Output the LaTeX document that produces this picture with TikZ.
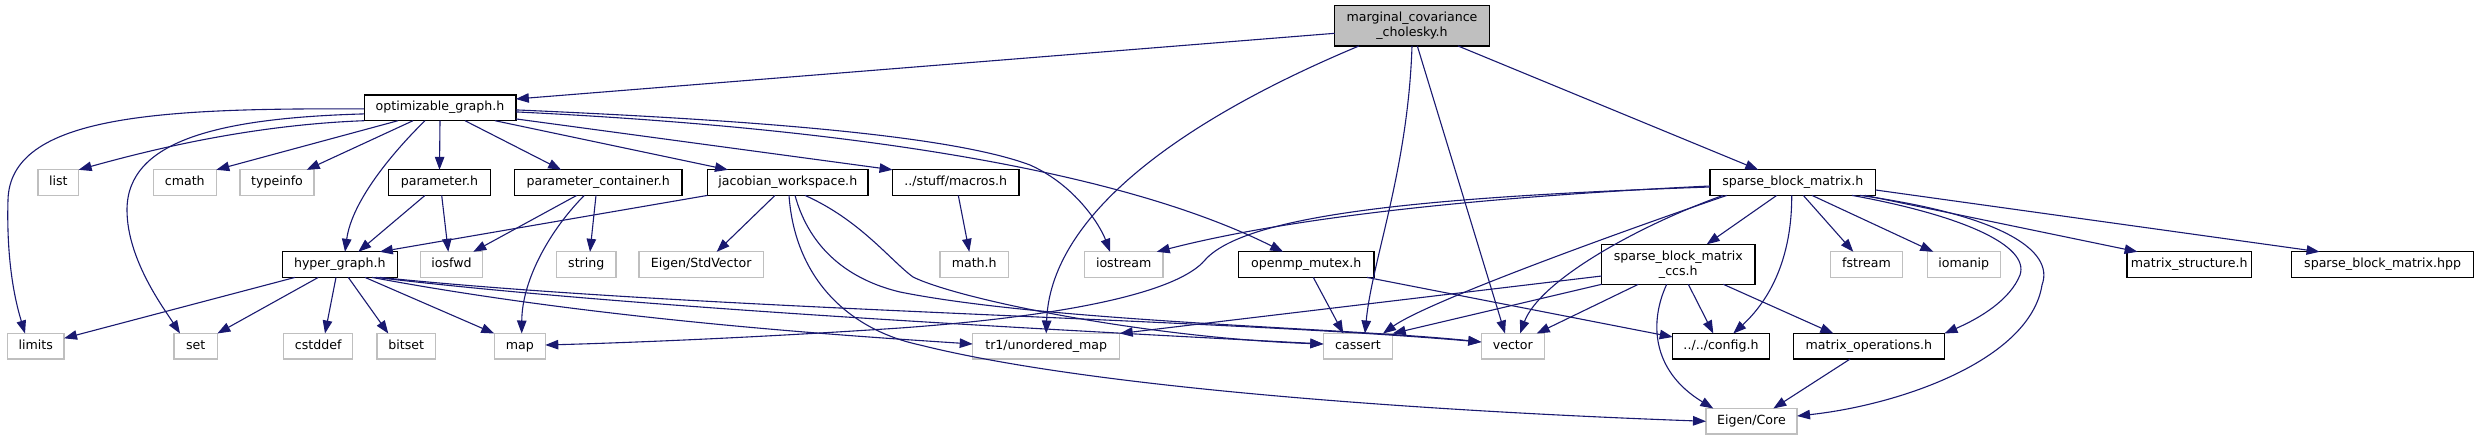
\documentclass[tikz,border=0pt]{standalone}
\usepackage{fontspec}
\setmainfont{DejaVu Sans}
\usetikzlibrary{arrows.meta}
\definecolor{edgeblue}{HTML}{191970}
\definecolor{sysgray}{HTML}{BFBFBF}
\tikzset{
  base/.style={rectangle, inner sep=0pt, outer sep=0pt, font=\fontsize{12.6}{15}\selectfont, align=center, line width=1.3pt, minimum height=25.6pt},
  one/.style={base, text height=9pt, text depth=3pt},
  doc/.style={one, draw=black},
  sys/.style={one, draw=sysgray},
  doctwo/.style={base, draw=black, minimum height=40pt},
  mainbox/.style={base, draw=black, fill=sysgray, minimum height=40.3pt},
  edge/.style={draw=edgeblue, line width=1.1pt, -{Triangle[length=13pt,width=9.5pt]}},
}
\begin{document}
\begin{tikzpicture}[x=1pt,y=-1pt]
\useasboundingbox (0,0) rectangle (2478,440);
% nodes
\node[mainbox, minimum width=154.6pt] (mcc) at (1412,25.8) {marginal\_covariance\\\_cholesky.h};
\node[doc, minimum width=151.7pt] (opt) at (440,107.9) {optimizable\_graph.h};
\node[sys, minimum width=40.7pt] (list) at (58.3,182.6) {list};
\node[sys, minimum width=63pt] (cmath) at (184.8,182.6) {cmath};
\node[sys, minimum width=74pt] (typeinfo) at (277,182.6) {typeinfo};
\node[doc, minimum width=101.6pt] (param) at (439.5,182.6) {parameter.h};
\node[doc, minimum width=167.3pt] (pcont) at (598.2,182.6) {parameter\_container.h};
\node[doc, minimum width=160.6pt] (jac) at (787.8,182.6) {jacobian\_workspace.h};
\node[doc, minimum width=126.5pt] (macros) at (955.8,182.6) {../stuff/macros.h};
\node[doc, minimum width=165.7pt] (sbm) at (1792.8,182.6) {sparse\_block\_matrix.h};
\node[doc, minimum width=115pt] (hg) at (339.8,264.6) {hyper\_graph.h};
\node[sys, minimum width=61.6pt] (iosfwd) at (451.5,264.6) {iosfwd};
\node[sys, minimum width=59.3pt] (string) at (586.3,264.6) {string};
\node[sys, minimum width=124.3pt] (stdvec) at (701.2,264.6) {Eigen/StdVector};
\node[sys, minimum width=68.3pt] (math) at (974.2,264.6) {math.h};
\node[sys, minimum width=78.7pt] (iostream) at (1123.7,264.6) {iostream};
\node[doc, minimum width=135.7pt] (omp) at (1306.2,264.6) {openmp\_mutex.h};
\node[doctwo, minimum width=153.3pt] (ccs) at (1678.3,264.3) {sparse\_block\_matrix\\\_ccs.h};
\node[sys, minimum width=71.7pt] (fstream) at (1866.5,264.6) {fstream};
\node[sys, minimum width=73.3pt] (iomanip) at (1963.8,264.6) {iomanip};
\node[doc, minimum width=124.3pt] (mstruct) at (2189.2,264.6) {matrix\_structure.h};
\node[doc, minimum width=182pt] (hpp) at (2382.6,264.6) {sparse\_block\_matrix.hpp};
\node[sys, minimum width=56.7pt] (limits) at (35.7,346.3) {limits};
\node[sys, minimum width=43.3pt] (set) at (195.7,346.3) {set};
\node[sys, minimum width=69pt] (cstddef) at (318.2,346.3) {cstddef};
\node[sys, minimum width=58.7pt] (bitset) at (406.3,346.3) {bitset};
\node[sys, minimum width=51pt] (map) at (519.8,346.3) {map};
\node[sys, minimum width=147pt] (tr1) at (1046.2,346.3) {tr1/unordered\_map};
\node[sys, minimum width=69.4pt] (cassert) at (1358,346.3) {cassert};
\node[sys, minimum width=63pt] (vector) at (1512.8,346.3) {vector};
\node[doc, minimum width=96.6pt] (config) at (1721,346.3) {../../config.h};
\node[doc, minimum width=151pt] (mops) at (1868.9,346.3) {matrix\_operations.h};
\node[sys, minimum width=91pt] (core) at (1751.5,421.3) {Eigen/Core};
% marginal_covariance_cholesky.h
\draw[edge] ([shift={(0,7.5)}]mcc.west) -- ([shift={(0,-8.9)}]opt.east);
\draw[edge] ([shift={(-53,0)}]mcc.south) .. controls (1170,125) and (1050,220) .. (tr1.north);
\draw[edge] (mcc.south) .. controls (1408,170) and (1372,260) .. ([shift={(7,0)}]cassert.north);
\draw[edge] ([shift={(5.3,0)}]mcc.south) -- ([shift={(-7.8,0)}]vector.north);
\draw[edge] ([shift={(46,0)}]mcc.south) -- ([shift={(-34.5,0)}]sbm.north);
% optimizable_graph.h
\draw[edge] ([shift={(0,1)}]opt.west) .. controls (160,108) and (10,115) .. (8,200) .. controls (6,270) and (18,310) .. ([shift={(-10.7,0)}]limits.north);
\draw[edge] ([shift={(0,6)}]opt.west) .. controls (220,118) and (127,140) .. (127,210) .. controls (127,260) and (165,310) .. ([shift={(-15.7,0)}]set.north);
\draw[edge] (opt.south west) .. controls (250,125) and (150,150) .. (list.north east);
\draw[edge] ([shift={(-42,0)}]opt.south) -- (cmath.north east);
\draw[edge] ([shift={(-27,0)}]opt.south) -- ([shift={(29.7,0)}]typeinfo.north);
\draw[edge] ([shift={(-15,0)}]opt.south) .. controls (395,150) and (352,200) .. ([shift={(5.2,0)}]hg.north);
\draw[edge] (opt.south) -- (param.north);
\draw[edge] ([shift={(25,0)}]opt.south) -- ([shift={(-37,0)}]pcont.north);
\draw[edge] ([shift={(55,0)}]opt.south) -- ([shift={(-59.8,0)}]jac.north);
\draw[edge] ([shift={(0,11)}]opt.east) -- (macros.north west);
\draw[edge] ([shift={(0,2)}]opt.east) .. controls (750,120) and (950,135) .. (1030,165) .. controls (1075,185) and (1100,225) .. ([shift={(-13.7,0)}]iostream.north);
\draw[edge] ([shift={(0,4)}]opt.east) .. controls (850,128) and (1120,170) .. ([shift={(-23,0)}]omp.north);
% parameter.h, parameter_container.h
\draw[edge] ([shift={(-14.5,0)}]param.south) -- ([shift={(18.5,0)}]hg.north);
\draw[edge] ([shift={(2.2,0)}]param.south) -- ([shift={(-3.2,0)}]iosfwd.north);
\draw[edge] ([shift={(-21.5,0)}]pcont.south) -- ([shift={(21.8,0)}]iosfwd.north);
\draw[edge] ([shift={(-13.9,0)}]pcont.south) .. controls (550,230) and (522,280) .. ([shift={(1.9,0)}]map.north);
\draw[edge] ([shift={(-2.2,0)}]pcont.south) -- ([shift={(3.7,0)}]string.north);
% jacobian_workspace.h
\draw[edge] (jac.south west) -- ([shift={(40,0)}]hg.north);
\draw[edge] ([shift={(-12.8,0)}]jac.south) -- ([shift={(15.5,0)}]stdvec.north);
\draw[edge] ([shift={(1.2,0)}]jac.south) .. controls (795,280) and (850,330) .. (920,345) .. controls (1100,390) and (1450,412) .. (core.west);
\draw[edge] ([shift={(17.2,0)}]jac.south) .. controls (860,220) and (890,260) .. (913,277) .. controls (960,300) and (1150,338) .. ([shift={(0,-2.3)}]cassert.west);
\draw[edge] ([shift={(7.2,0)}]jac.south) .. controls (810,250) and (850,280) .. (900,292) .. controls (1050,322) and (1350,328) .. ([shift={(0,-4.3)}]vector.west);
% hyper_graph.h
\draw[edge] ([shift={(-44.8,0)}]hg.south) -- ([shift={(0,-8)}]limits.east);
\draw[edge] ([shift={(-21.5,0)}]hg.south) -- (set.north east);
\draw[edge] ([shift={(-3.8,0)}]hg.south) -- ([shift={(6.8,0)}]cstddef.north);
\draw[edge] ([shift={(8.5,0)}]hg.south) -- ([shift={(-18,0)}]bitset.north);
\draw[edge] ([shift={(25.2,0)}]hg.south) -- (map.north west);
\draw[edge] ([shift={(32.2,0)}]hg.south) .. controls (600,320) and (850,336) .. ([shift={(0,-2.3)}]tr1.west);
\draw[edge] ([shift={(36.2,0)}]hg.south) .. controls (650,310) and (1100,332) .. ([shift={(0,-2.3)}]cassert.west);
\draw[edge] ([shift={(40.2,0)}]hg.south) .. controls (700,310) and (1200,318) .. ([shift={(0,-4.3)}]vector.west);
% openmp_mutex.h, macros.h
\draw[edge] ([shift={(7.1,0)}]omp.south) -- ([shift={(-14.7,0)}]cassert.north);
\draw[edge] ([shift={(60.8,0)}]omp.south) -- ([shift={(0,-9.3)}]config.west);
\draw[edge] ([shift={(2.5,0)}]macros.south) -- ([shift={(-4.9,0)}]math.north);
% sparse_block_matrix.h
\draw[edge] ([shift={(0,3.4)}]sbm.west) .. controls (1500,196) and (1300,215) .. ([shift={(33,0)}]iostream.north);
\draw[edge] ([shift={(0,4.4)}]sbm.west) .. controls (1420,197) and (1245,215) .. (1205,260) .. controls (1180,290) and (1080,315) .. (900,328) .. controls (750,338) and (620,343) .. ([shift={(0,-1.3)}]map.east);
\draw[edge] ([shift={(-66,0)}]sbm.south) .. controls (1640,225) and (1430,300) .. ([shift={(25,0)}]cassert.north);
\draw[edge] ([shift={(-69.8,0)}]sbm.south) .. controls (1640,225) and (1540,280) .. ([shift={(7.2,0)}]vector.north);
\draw[edge] ([shift={(-16.1,0)}]sbm.south) -- ([shift={(28.4,0)}]ccs.north);
\draw[edge] ([shift={(-1.1,0)}]sbm.south) .. controls (1792,250) and (1775,295) .. ([shift={(12.3,0)}]config.north);
\draw[edge] ([shift={(10.5,0)}]sbm.south) -- ([shift={(-13.2,0)}]fstream.north);
\draw[edge] ([shift={(19.2,0)}]sbm.south) -- ([shift={(-30.5,0)}]iomanip.north);
\draw[edge] ([shift={(59.2,0)}]sbm.south) .. controls (1960,215) and (2030,245) .. (2020,275) .. controls (2010,300) and (1980,318) .. (mops.north east);
\draw[edge] ([shift={(67.2,0)}]sbm.south) .. controls (2000,215) and (2055,250) .. (2042,285) .. controls (2030,360) and (1900,405) .. ([shift={(0,-5.3)}]core.east);
\draw[edge] ([shift={(72.2,0)}]sbm.south) -- ([shift={(-51.6,0)}]mstruct.north);
\draw[edge] ([shift={(0,7.4)}]sbm.east) -- ([shift={(-63,0)}]hpp.north);
% sparse_block_matrix_ccs.h
\draw[edge] ([shift={(0,11.7)}]ccs.west) -- (tr1.north east);
\draw[edge] (ccs.south west) -- (cassert.north east);
\draw[edge] ([shift={(-40,0)}]ccs.south) -- ([shift={(23.9,0)}]vector.north);
\draw[edge] ([shift={(10,0)}]ccs.south) -- ([shift={(-7.7,0)}]config.north);
\draw[edge] ([shift={(45,0)}]ccs.south) -- ([shift={(-35.6,0)}]mops.north);
\draw[edge] ([shift={(-11.6,0)}]ccs.south) .. controls (1650,320) and (1650,370) .. ([shift={(-38.2,0)}]core.north);
% matrix_operations.h
\draw[edge] ([shift={(-18.9,0)}]mops.south) -- ([shift={(21.8,0)}]core.north);
\end{tikzpicture}
\end{document}
